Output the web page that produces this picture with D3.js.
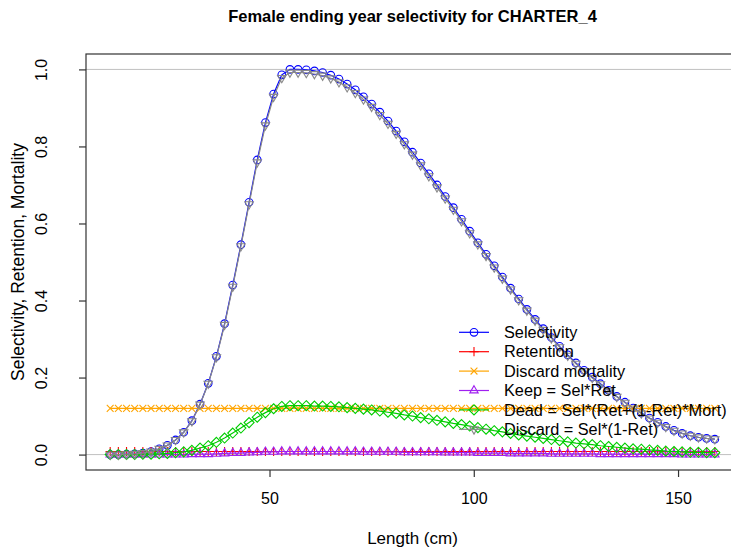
<!DOCTYPE html>
<html>
<head>
<meta charset="utf-8">
<script src="https://cdn.jsdelivr.net/npm/d3@7"></script>
<style>
  body { margin: 0; background: #fff; }
  svg { display: block; font-family: "Liberation Sans", Arial, sans-serif; }
</style>
</head>
<body>
<div id="chart"></div>
<script>
// length bins (cm)
const lengths = [
  11, 13, 15, 17, 19, 21, 23, 25, 27, 29,
  31, 33, 35, 37, 39, 41, 43, 45, 47, 49,
  51, 53, 55, 57, 59, 61, 63, 65, 67, 69,
  71, 73, 75, 77, 79, 81, 83, 85, 87, 89,
  91, 93, 95, 97, 99, 101, 103, 105, 107, 109,
  111, 113, 115, 117, 119, 121, 123, 125, 127, 129,
  131, 133, 135, 137, 139, 141, 143, 145, 147, 149,
  151, 153, 155, 157, 159
];

const selectivity = [
  0.000, 0.000, 0.001, 0.002, 0.004, 0.008, 0.015, 0.024, 0.038, 0.058,
  0.088, 0.131, 0.185, 0.255, 0.340, 0.440, 0.545, 0.655, 0.765, 0.862,
  0.936, 0.986, 1.000, 1.000, 0.999, 0.996, 0.992, 0.985, 0.975, 0.962,
  0.947, 0.929, 0.910, 0.889, 0.866, 0.840, 0.812, 0.785, 0.757, 0.729,
  0.700, 0.670, 0.641, 0.611, 0.580, 0.550, 0.520, 0.490, 0.461, 0.432,
  0.404, 0.377, 0.351, 0.327, 0.304, 0.281, 0.259, 0.238, 0.219, 0.201,
  0.184, 0.167, 0.151, 0.136, 0.121, 0.108, 0.095, 0.084, 0.073, 0.063,
  0.055, 0.049, 0.045, 0.042, 0.040
];

const retention = [
  0.008, 0.008, 0.008, 0.008, 0.008, 0.008, 0.008, 0.008, 0.008, 0.008,
  0.008, 0.008, 0.008, 0.008, 0.008, 0.008, 0.008, 0.008, 0.008, 0.008,
  0.008, 0.008, 0.008, 0.008, 0.008, 0.008, 0.008, 0.008, 0.008, 0.008,
  0.008, 0.008, 0.008, 0.008, 0.008, 0.008, 0.008, 0.008, 0.008, 0.008,
  0.008, 0.008, 0.008, 0.008, 0.008, 0.008, 0.008, 0.008, 0.008, 0.008,
  0.008, 0.008, 0.008, 0.008, 0.008, 0.008, 0.008, 0.008, 0.008, 0.008,
  0.008, 0.008, 0.008, 0.008, 0.008, 0.008, 0.008, 0.008, 0.008, 0.008,
  0.008, 0.008, 0.008, 0.008, 0.008
];

const discardMort = [
  0.12, 0.12, 0.12, 0.12, 0.12, 0.12, 0.12, 0.12, 0.12, 0.12,
  0.12, 0.12, 0.12, 0.12, 0.12, 0.12, 0.12, 0.12, 0.12, 0.12,
  0.12, 0.12, 0.12, 0.12, 0.12, 0.12, 0.12, 0.12, 0.12, 0.12,
  0.12, 0.12, 0.12, 0.12, 0.12, 0.12, 0.12, 0.12, 0.12, 0.12,
  0.12, 0.12, 0.12, 0.12, 0.12, 0.12, 0.12, 0.12, 0.12, 0.12,
  0.12, 0.12, 0.12, 0.12, 0.12, 0.12, 0.12, 0.12, 0.12, 0.12,
  0.12, 0.12, 0.12, 0.12, 0.12, 0.12, 0.12, 0.12, 0.12, 0.12,
  0.12, 0.12, 0.12, 0.12, 0.12
];

const keep = [
  0.000, 0.000, 0.000, 0.000, 0.000, 0.000, 0.000, 0.000, 0.000, 0.000,
  0.001, 0.001, 0.001, 0.002, 0.003, 0.004, 0.004, 0.005, 0.006, 0.007,
  0.007, 0.008, 0.008, 0.008, 0.008, 0.008, 0.008, 0.008, 0.008, 0.008,
  0.008, 0.007, 0.007, 0.007, 0.007, 0.007, 0.006, 0.006, 0.006, 0.006,
  0.006, 0.005, 0.005, 0.005, 0.005, 0.004, 0.004, 0.004, 0.004, 0.003,
  0.003, 0.003, 0.003, 0.003, 0.002, 0.002, 0.002, 0.002, 0.002, 0.002,
  0.001, 0.001, 0.001, 0.001, 0.001, 0.001, 0.001, 0.001, 0.001, 0.001,
  0.000, 0.000, 0.000, 0.000, 0.000
];

const dead = [
  0.000, 0.000, 0.000, 0.000, 0.001, 0.001, 0.002, 0.003, 0.005, 0.007,
  0.011, 0.017, 0.023, 0.032, 0.043, 0.056, 0.069, 0.083, 0.097, 0.109,
  0.119, 0.125, 0.127, 0.127, 0.127, 0.126, 0.126, 0.125, 0.124, 0.122,
  0.120, 0.118, 0.116, 0.113, 0.110, 0.107, 0.103, 0.100, 0.096, 0.093,
  0.089, 0.085, 0.081, 0.078, 0.074, 0.070, 0.066, 0.062, 0.059, 0.055,
  0.051, 0.048, 0.045, 0.042, 0.039, 0.036, 0.033, 0.030, 0.028, 0.026,
  0.023, 0.021, 0.019, 0.017, 0.015, 0.014, 0.012, 0.011, 0.009, 0.008,
  0.007, 0.006, 0.006, 0.005, 0.005
];

const discard = [
  0.000, 0.000, 0.001, 0.002, 0.004, 0.008, 0.015, 0.024, 0.038, 0.058,
  0.087, 0.130, 0.184, 0.253, 0.337, 0.436, 0.541, 0.650, 0.759, 0.855,
  0.929, 0.978, 0.992, 0.992, 0.991, 0.988, 0.984, 0.977, 0.967, 0.954,
  0.939, 0.922, 0.903, 0.882, 0.859, 0.833, 0.806, 0.779, 0.751, 0.723,
  0.694, 0.665, 0.636, 0.606, 0.575, 0.546, 0.516, 0.486, 0.457, 0.429,
  0.401, 0.374, 0.348, 0.324, 0.302, 0.279, 0.257, 0.236, 0.217, 0.199,
  0.183, 0.166, 0.150, 0.135, 0.120, 0.107, 0.094, 0.083, 0.072, 0.062,
  0.055, 0.049, 0.045, 0.042, 0.040
];

const seriesNames = ["Selectivity", "Retention", "Discard mortality",
  "Keep = Sel*Ret", "Dead = Sel*(Ret+(1-Ret)*Mort)", "Discard = Sel*(1-Ret)"];
const xTicks = [50, 100, 150];
const yTicks = [0, 0.2, 0.4, 0.6, 0.8, 1.0];

// marker shapes like R's pch 1,3,4,2,5,6
const shapes = {
  circle: "M-3.8,0A3.8,3.8 0 1,0 3.8,0A3.8,3.8 0 1,0 -3.8,0Z",
  plus: "M-4.6,0H4.6M0,-4.6V4.6",
  cross: "M-3.4,-3.4L3.4,3.4M-3.4,3.4L3.4,-3.4",
  triUp: "M0,-4.8L4.2,2.4L-4.2,2.4Z",
  diamond: "M0,-5L5,0L0,5L-5,0Z",
  triDown: "M0,4.8L4.2,-2.4L-4.2,-2.4Z"
};

const series = [
  { name: seriesNames[0], values: selectivity, color: "#0000ff", shape: "circle" },
  { name: seriesNames[1], values: retention, color: "#ff0000", shape: "plus" },
  { name: seriesNames[2], values: discardMort, color: "#ffa500", shape: "cross" },
  { name: seriesNames[3], values: keep, color: "#a020f0", shape: "triUp" },
  { name: seriesNames[4], values: dead, color: "#00cd00", shape: "diamond" },
  { name: seriesNames[5], values: discard, color: "#888888", shape: "triDown" }
];

const width = 731, height = 552;
const plotL = 86, plotR = 739, plotT = 54, plotB = 470;

const svg = d3.select("#chart").append("svg")
  .attr("width", width)
  .attr("height", height);

const x = d3.scaleLinear().domain([5.08, 164.92]).range([plotL, plotR]);
const y = d3.scaleLinear().domain([-0.04, 1.04]).range([plotB, plotT]);

// reference lines at 0 and 1
svg.selectAll(".hline")
  .data([0, 1])
  .enter().append("line")
    .attr("x1", plotL).attr("x2", plotR)
    .attr("y1", d => y(d)).attr("y2", d => y(d))
    .attr("stroke", "#c0c0c0")
    .attr("stroke-width", 1);

// series
const line = d3.line()
  .x((d, i) => x(lengths[i]))
  .y(d => y(d));

series.forEach(s => {
  const g = svg.append("g");
  g.append("path")
    .attr("d", line(s.values))
    .attr("fill", "none")
    .attr("stroke", s.color)
    .attr("stroke-width", 1.2);
  g.selectAll("path.pt")
    .data(s.values)
    .enter().append("path")
      .attr("class", "pt")
      .attr("d", shapes[s.shape])
      .attr("transform", (d, i) => "translate(" + x(lengths[i]) + "," + y(d) + ")")
      .attr("fill", "none")
      .attr("stroke", s.color)
      .attr("stroke-width", 1.1);
});

// box
svg.append("rect")
  .attr("x", plotL).attr("y", plotT)
  .attr("width", plotR - plotL).attr("height", plotB - plotT)
  .attr("fill", "none")
  .attr("stroke", "#333")
  .attr("stroke-width", 1.2);

// x axis
const xAxis = svg.append("g")
  .attr("transform", "translate(0," + plotB + ")")
  .call(d3.axisBottom(x).tickValues(xTicks).tickSize(7).tickFormat(d3.format("d")));
xAxis.select(".domain").remove();
xAxis.selectAll("line").attr("stroke", "#333").attr("stroke-width", 1.2);
xAxis.selectAll("text")
  .attr("y", 23)
  .attr("dy", "0.71em")
  .attr("fill", "#000")
  .style("font-size", "16px")
  .style("font-family", "'Liberation Sans', Arial, sans-serif");

// y axis
const yAxis = svg.append("g")
  .attr("transform", "translate(" + plotL + ",0)")
  .call(d3.axisLeft(y).tickValues(yTicks).tickSize(7).tickFormat(d3.format(".1f")));
yAxis.select(".domain").remove();
yAxis.selectAll("line").attr("stroke", "#333").attr("stroke-width", 1.2);
yAxis.selectAll("text")
  .attr("x", 0).attr("y", 0)
  .attr("dy", "0.35em")
  .attr("text-anchor", "middle")
  .attr("transform", "translate(-45,0) rotate(-90)")
  .attr("fill", "#000")
  .style("font-size", "16px")
  .style("font-family", "'Liberation Sans', Arial, sans-serif");

// title and axis labels
svg.append("text")
  .attr("x", (plotL + plotR) / 2).attr("y", 22)
  .attr("text-anchor", "middle")
  .style("font-size", "16.5px")
  .style("font-weight", "bold")
  .text("Female ending year selectivity for CHARTER_4");

svg.append("text")
  .attr("x", (plotL + plotR) / 2).attr("y", 544)
  .attr("text-anchor", "middle")
  .style("font-size", "17px")
  .text("Length (cm)");

svg.append("text")
  .attr("transform", "translate(18," + ((plotT + plotB) / 2) + ") rotate(-90)")
  .attr("dy", "0.35em")
  .attr("text-anchor", "middle")
  .style("font-size", "17.5px")
  .text("Selectivity, Retention, Mortality");

// legend (no box)
const legend = svg.append("g");
const rowY = d3.scaleLinear().domain([0, 5]).range([332.3, 429.3]);
series.forEach((s, i) => {
  const ly = rowY(i);
  legend.append("line")
    .attr("x1", 459).attr("x2", 489)
    .attr("y1", ly).attr("y2", ly)
    .attr("stroke", s.color).attr("stroke-width", 1.2);
  legend.append("path")
    .attr("d", shapes[s.shape])
    .attr("transform", "translate(474," + ly + ")")
    .attr("fill", "none").attr("stroke", s.color).attr("stroke-width", 1.1);
  legend.append("text")
    .attr("x", 504).attr("y", ly)
    .attr("dy", "0.35em")
    .style("font-size", "16.3px")
    .text(s.name);
});
</script>
</body>
</html>
